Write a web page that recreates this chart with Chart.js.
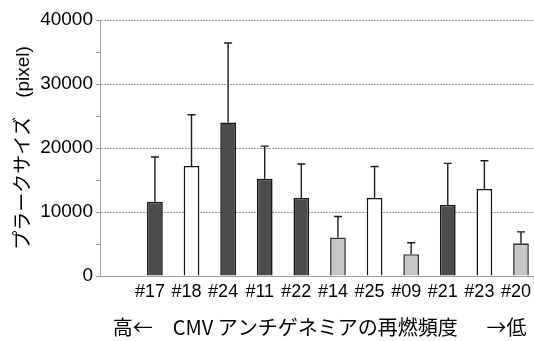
<!DOCTYPE html>
<html>
<head>
<meta charset="utf-8">
<script src="https://cdn.jsdelivr.net/npm/chart.js@4/dist/chart.umd.min.js"></script>
<style>
  html, body { margin: 0; padding: 0; background: #fff; overflow: hidden; width: 534px; height: 341px; }
  #wrap { position: relative; width: 541px; height: 341px; }
</style>
</head>
<body>
<div id="wrap"><canvas id="c" width="541" height="341"></canvas></div>
<script>
// Plaque size per isolate, ordered by CMV antigenemia recurrence frequency (high -> low).
// The first slot is an empty category left blank on the axis.
const categories = ['', '#17', '#18', '#24', '#11', '#22', '#14', '#25', '#09', '#21', '#23', '#20'];
const plaqueSize = [null, 11600, 17200, 24000, 15200, 12200, 6000, 12200, 3400, 11100, 13600, 5100];
const plaqueSD   = [null, 7000, 8000, 12400, 5100, 5300, 3300, 4900, 1800, 6500, 4400, 1800];
const isolateGroup = [null, 'A', 'B', 'A', 'A', 'A', 'C', 'B', 'C', 'A', 'B', 'C'];
const yTicks = [0, 10000, 20000, 30000, 40000];

const groupFill = { A: '#4c4c4c', B: '#ffffff', C: '#c6c6c6' };
const groupBorder = { A: '#141414', B: '#141414', C: '#333333' };

const FONT = "'Liberation Sans', 'Noto Sans CJK JP', sans-serif";
const JP_FONT = "'Noto Sans CJK JP', 'Liberation Sans', sans-serif";

// Upper error bars (mean + SD) drawn through the y scale
const errorBars = {
  id: 'errorBars',
  afterDatasetsDraw(chart) {
    const { ctx, scales: { y } } = chart;
    const meta = chart.getDatasetMeta(0);
    ctx.save();
    ctx.strokeStyle = '#1a1a1a';
    ctx.lineWidth = 1.4;
    meta.data.forEach((bar, i) => {
      const v = plaqueSize[i], e = plaqueSD[i];
      if (v == null || e == null) return;
      const yBase = y.getPixelForValue(v);
      const yTop = y.getPixelForValue(v + e);
      ctx.beginPath();
      ctx.moveTo(bar.x, yBase);
      ctx.lineTo(bar.x, yTop);
      ctx.moveTo(bar.x - 4, yTop);
      ctx.lineTo(bar.x + 4, yTop);
      ctx.stroke();
    });
    ctx.restore();
  }
};

new Chart(document.getElementById('c'), {
  type: 'bar',
  data: {
    labels: categories,
    datasets: [{
      data: plaqueSize,
      backgroundColor: isolateGroup.map(g => g ? groupFill[g] : 'transparent'),
      borderColor: isolateGroup.map(g => g ? groupBorder[g] : 'transparent'),
      borderWidth: 1.6,
      barPercentage: 0.43,
      categoryPercentage: 1.0
    }]
  },
  options: {
    responsive: false,
    animation: false,
    devicePixelRatio: 1,
    layout: { padding: { top: 20, right: 0, left: 0, bottom: 0 } },
    plugins: { legend: { display: false }, tooltip: { enabled: false } },
    scales: {
      x: {
        afterFit(s) { s.height = 65; },
        grid: { display: false, drawTicks: false },
        border: { color: '#a0a0a0', width: 1 },
        ticks: {
          color: '#000', padding: 5, maxRotation: 0, autoSkip: false, labelOffset: -5,
          font: { family: FONT, size: 18 }
        },
        title: {
          display: true,
          text: '高←　CMV アンチゲネミアの再燃頻度　  →低',
          color: '#000',
          font: { family: JP_FONT, size: 20 },
          padding: { top: 0, bottom: 2 }
        }
      },
      y: {
        min: 0, max: 40000,
        afterFit(s) { s.width = 100; },
        afterBuildTicks(s) {
          // major labels plus unlabelled minor tick marks halfway between
          const t = [];
          for (let k = 0; k < yTicks.length; k++) {
            t.push({ value: yTicks[k] });
            if (k < yTicks.length - 1) t.push({ value: (yTicks[k] + yTicks[k + 1]) / 2, minor: true });
          }
          s.ticks = t;
        },
        ticks: {
          color: '#000', padding: 3,
          font: { family: FONT, size: 19 },
          callback: v => yTicks.includes(v) ? String(v) : ''
        },
        grid: {
          color: c => (c.tick && yTicks.includes(c.tick.value)) ? '#9a9a9a' : 'rgba(0,0,0,0)',
          tickColor: '#9a9a9a',
          tickLength: 4,
          lineWidth: 1
        },
        border: { color: '#a0a0a0', width: 1, dash: [2, 1] },
        title: {
          display: true,
          text: 'プラークサイズ　(pixel)',
          color: '#000',
          font: { family: FONT, size: 19 },
          padding: { top: 12, bottom: 0 }
        }
      }
    }
  },
  plugins: [errorBars]
});
</script>
</body>
</html>
